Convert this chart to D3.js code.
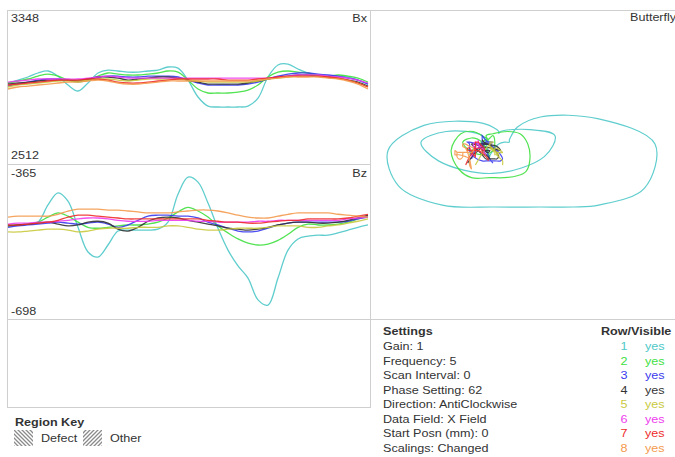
<!DOCTYPE html>
<html>
<head>
<meta charset="utf-8">
<script src="https://cdn.jsdelivr.net/npm/d3@7"></script>
<style>
  html, body { margin: 0; padding: 0; background: #fff; }
  svg { display: block; font-family: "Liberation Sans", Arial, sans-serif; }
</style>
</head>
<body>
<svg id="chart" width="675" height="457"></svg>
<script>
// scan rows (1..8) and their colours
const rows = [1, 2, 3, 4, 5, 6, 7, 8];
const rowColors = ["#4ec8c8", "#3fe03f", "#3a3aee", "#333333", "#c9c93e", "#ee3cee", "#ee2b2b", "#f49a4e"];
const visible = ["yes", "yes", "yes", "yes", "yes", "yes", "yes", "yes"];

// axis limits shown in the panel corners
const bxRange = [2512, 3348];
const bzRange = [-698, -365];

// Bx readings, one row per scan (37 samples along the scan)
const bx = [
  [2952,2968,2985,3007,3018,2990,2941,2908,2952,3007,3023,3018,3012,3012,3018,3023,3040,3034,2968,2875,2825,2820,2820,2820,2825,2869,2985,3051,3056,3029,3007,2996,2990,2990,2985,2968,2946],
  [2952,2963,2974,2990,3001,2990,2968,2957,2968,2990,3007,3001,2996,2996,3001,3007,3018,3012,2968,2919,2897,2897,2897,2902,2913,2941,2985,3012,3018,3012,3007,2996,2990,2996,2990,2979,2957],
  [2935,2946,2957,2968,2974,2974,2968,2968,2974,2985,2990,2990,2985,2985,2990,2990,2990,2985,2968,2952,2941,2941,2941,2941,2946,2957,2974,2990,3001,3007,3007,3001,2996,2990,2979,2968,2946],
  [2946,2952,2957,2963,2968,2968,2968,2963,2974,2985,2985,2979,2968,2974,2979,2985,2985,2979,2968,2957,2946,2946,2946,2946,2952,2963,2974,2985,2990,2996,2996,2990,2985,2979,2968,2957,2935],
  [2930,2941,2946,2952,2957,2963,2963,2963,2968,2974,2974,2968,2963,2968,2974,2974,2974,2974,2968,2963,2957,2957,2957,2957,2957,2963,2974,2979,2985,2990,2990,2990,2985,2979,2968,2952,2930],
  [2957,2963,2968,2974,2974,2974,2974,2974,2979,2985,2990,2985,2979,2979,2979,2979,2979,2979,2979,2979,2979,2979,2979,2979,2979,2979,2979,2985,2990,2996,2996,2996,2990,2985,2979,2968,2952],
  [2941,2946,2952,2957,2963,2968,2968,2968,2974,2974,2968,2957,2952,2952,2957,2963,2968,2974,2974,2974,2974,2974,2968,2968,2968,2974,2979,2985,2990,2990,2990,2990,2985,2979,2968,2952,2930],
  [2919,2930,2935,2941,2946,2952,2957,2957,2963,2968,2963,2952,2946,2946,2952,2957,2963,2963,2963,2963,2963,2963,2963,2963,2963,2968,2974,2979,2985,2985,2985,2985,2979,2974,2963,2946,2919]
];

// Bz readings, same samples
const bz = [
  [-496,-496,-494,-490,-453,-427,-445,-501,-554,-565,-539,-509,-507,-507,-507,-505,-490,-430,-393,-404,-449,-503,-550,-584,-610,-657,-668,-610,-550,-526,-520,-518,-518,-513,-507,-501,-496],
  [-498,-496,-494,-490,-479,-470,-477,-490,-501,-503,-501,-498,-496,-496,-494,-490,-481,-468,-458,-466,-479,-498,-513,-526,-535,-539,-537,-529,-516,-501,-494,-496,-496,-494,-490,-483,-477],
  [-501,-498,-496,-494,-492,-490,-492,-494,-492,-490,-494,-501,-496,-486,-477,-475,-475,-477,-477,-481,-490,-496,-503,-509,-511,-509,-503,-496,-492,-490,-490,-490,-490,-490,-488,-483,-479],
  [-498,-496,-494,-492,-490,-494,-498,-496,-490,-488,-492,-505,-509,-501,-488,-481,-479,-481,-486,-490,-494,-498,-503,-505,-507,-505,-501,-496,-492,-490,-490,-492,-492,-490,-486,-481,-475],
  [-511,-511,-509,-507,-505,-505,-507,-511,-509,-505,-503,-503,-503,-501,-501,-501,-498,-498,-501,-505,-507,-507,-505,-503,-503,-503,-501,-498,-498,-498,-501,-501,-498,-496,-492,-488,-483],
  [-494,-492,-492,-490,-490,-488,-486,-483,-481,-481,-483,-486,-488,-488,-488,-486,-486,-486,-486,-488,-488,-490,-490,-490,-490,-488,-488,-486,-486,-486,-486,-486,-486,-486,-483,-481,-479],
  [-496,-496,-494,-492,-490,-486,-479,-475,-475,-477,-479,-481,-483,-483,-483,-483,-483,-483,-483,-483,-486,-488,-490,-490,-492,-492,-490,-488,-486,-486,-483,-483,-483,-483,-481,-477,-473],
  [-479,-477,-477,-477,-477,-473,-466,-462,-462,-462,-464,-464,-466,-468,-470,-470,-470,-468,-466,-464,-464,-466,-470,-475,-479,-481,-481,-477,-473,-470,-470,-470,-470,-473,-475,-477,-479]
];

const settings = ["Gain: 1", "Frequency: 5", "Scan Interval: 0", "Phase Setting: 62",
  "Direction: AntiClockwise", "Data Field: X Field", "Start Posn (mm): 0", "Scalings: Changed"];
const regionKeys = ["Defect", "Other"];

const svg = d3.select("#chart");
const BORDER = "#cfcfcf";
const TEXT = "#333";
const FONT = 10.5;      // text in the source is drawn a little wide
const STRETCH = 1.2;

// panel boxes
const leftX = 7, midX = 370, topY = 10;
const bxBox = { x: leftX, y: topY, w: midX - leftX, h: 154 };
const bzBox = { x: leftX, y: 164, w: midX - leftX, h: 155 };
const bfBox = { x: midX, y: topY, w: 320, h: 309 };
const emptyBox = { x: leftX, y: 319, w: midX - leftX, h: 88 };

const defs = svg.append("defs");
[bxBox, bzBox, bfBox].forEach(function(b, i) {
  defs.append("clipPath").attr("id", "clip" + i)
    .append("rect").attr("x", b.x).attr("y", b.y).attr("width", b.w).attr("height", b.h);
});

// hatch patterns for the region key
function hatch(id, d) {
  const p = defs.append("pattern").attr("id", id)
    .attr("patternUnits", "userSpaceOnUse").attr("width", 4).attr("height", 4);
  p.append("path").attr("d", d).attr("stroke", "#8a8a8a").attr("stroke-width", 1.3);
}
hatch("hatchDefect", "M-1,-1 L5,5 M-1,3 L1,5 M3,-1 L5,1");
hatch("hatchOther", "M-1,5 L5,-1 M-1,1 L1,-1 M3,5 L5,3");

[bxBox, bzBox, bfBox, emptyBox].forEach(function(b) {
  svg.append("rect")
    .attr("x", b.x + 0.5).attr("y", b.y + 0.5)
    .attr("width", b.w).attr("height", b.h)
    .attr("fill", "none").attr("stroke", BORDER);
});

const nSamples = bx[0].length;
const x = d3.scaleLinear().domain([0, nSamples - 1]).range([leftX + 1, midX - 2]);
const yBx = d3.scaleLinear().domain(bxRange).range([bxBox.y + bxBox.h - 1, bxBox.y + 1]);
const yBz = d3.scaleLinear().domain(bzRange).range([bzBox.y + bzBox.h, bzBox.y]);

// butterfly: Bz across (reversed), Bx up
const bfX = d3.scaleLinear().domain([-393, -668]).range([388, 655]);
const bfY = d3.scaleLinear().domain([3056, 2820]).range([117, 207]);

const curve = d3.curveCatmullRom.alpha(0.5);

function drawTraces(series, yScale, clipId) {
  const g = svg.append("g").attr("clip-path", "url(#" + clipId + ")");
  const line = d3.line().x(function(d, i) { return x(i); }).y(function(d) { return yScale(d); }).curve(curve);
  g.selectAll("path").data(series).enter().append("path")
    .attr("d", line)
    .attr("fill", "none")
    .attr("stroke", function(d, i) { return rowColors[i]; })
    .attr("stroke-width", 1.3)
    .attr("stroke-opacity", 0.9);
}
drawTraces(bx, yBx, "clip0");
drawTraces(bz, yBz, "clip1");

// butterfly loops built from the same scans
const bfg = svg.append("g").attr("clip-path", "url(#clip2)");
const bfLine = d3.line().x(function(d) { return bfX(d[1]); }).y(function(d) { return bfY(d[0]); }).curve(curve);
bfg.selectAll("path").data(rows).enter().append("path")
  .attr("d", function(r, i) { return bfLine(d3.zip(bx[i], bz[i])); })
  .attr("fill", "none")
  .attr("stroke", function(r, i) { return rowColors[i]; })
  .attr("stroke-width", 1.2)
  .attr("stroke-opacity", 0.9);

function place(tx, ty) { return "translate(" + tx + "," + ty + ") scale(" + STRETCH + ",1)"; }

// corner labels
function label(tx, ty, s, anchor, bold) {
  svg.append("text").attr("transform", place(tx, ty)).attr("text-anchor", anchor || "start")
    .attr("font-size", FONT).attr("font-weight", bold ? "bold" : null)
    .attr("fill", TEXT).text(s);
}
label(11, 22, String(bxRange[1]));
label(11, 159, String(bxRange[0]));
label(367, 22, "Bx", "end");
label(11, 177, String(bzRange[1]));
label(11, 315, String(bzRange[0]));
label(367, 177, "Bz", "end");
label(630, 21, "Butterfly");

// settings block
label(383, 335, "Settings", "start", true);
label(601, 335, "Row/Visible", "start", true);
const rowY = d3.scaleLinear().domain([0, 7]).range([350, 452]);
const st = svg.append("g").attr("font-size", FONT).attr("fill", TEXT);
st.selectAll("text.set").data(settings).enter().append("text")
  .attr("class", "set").attr("transform", function(d, i) { return place(383, rowY(i)); })
  .text(function(d) { return d; });
st.selectAll("text.row").data(rows).enter().append("text")
  .attr("class", "row").attr("text-anchor", "middle")
  .attr("transform", function(d, i) { return place(624, rowY(i)); })
  .attr("fill", function(d, i) { return rowColors[i]; }).text(function(d) { return d; });
st.selectAll("text.vis").data(visible).enter().append("text")
  .attr("class", "vis")
  .attr("transform", function(d, i) { return place(645, rowY(i)); })
  .attr("fill", function(d, i) { return rowColors[i]; }).text(function(d) { return d; });

// region key
label(15, 426, "Region Key", "start", true);
const keyX = [14, 83];
const rk = svg.append("g").attr("font-size", FONT).attr("fill", TEXT);
rk.selectAll("rect").data(regionKeys).enter().append("rect")
  .attr("x", function(d, i) { return keyX[i]; }).attr("y", 430)
  .attr("width", 19).attr("height", 16)
  .attr("fill", function(d, i) { return i === 0 ? "url(#hatchDefect)" : "url(#hatchOther)"; });
rk.selectAll("text.key").data(regionKeys).enter().append("text")
  .attr("class", "key").attr("transform", function(d, i) { return place(keyX[i] + 27, 442); })
  .text(function(d) { return d; });
</script>
</body>
</html>
